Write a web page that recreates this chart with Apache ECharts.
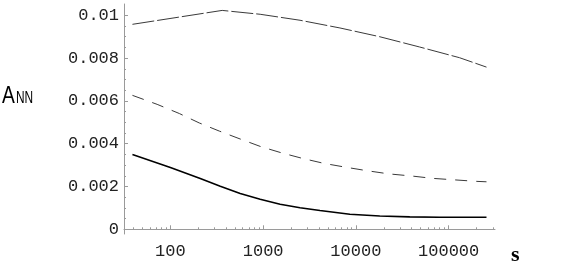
<!DOCTYPE html>
<html>
<head>
    <meta charset="utf-8">
    <title>ANN vs s</title>
    <script src="https://cdn.jsdelivr.net/npm/echarts@6/dist/echarts.min.js"></script>
    <style>
        html, body { margin: 0; padding: 0; background: #fff; }
        #main { width: 568px; height: 280px; }
    </style>
</head>
<body>
    <div id="main"></div>
    <script type="text/javascript">
        // curves (s on a log axis)
        var sTop = [39, 362, 929, 2500, 6730, 18100, 48700, 131000, 256000];
        var aTop = [0.00958, 0.01023, 0.01005, 0.00977, 0.00941, 0.00900, 0.00852, 0.00802, 0.00758];

        var sMid = [39, 72, 125, 205, 337, 566, 950, 1560, 2620, 4530, 7800, 13100, 22600, 40000, 67300, 116000, 200000, 256000];
        var aMid = [0.00626, 0.00584, 0.00541, 0.00497, 0.00459, 0.00422, 0.00386, 0.00358, 0.00332, 0.00308, 0.00290, 0.00274, 0.00259, 0.00249, 0.00238, 0.00231, 0.00224, 0.00222];

        var sLow = [39, 100, 210, 345, 566, 929, 1525, 2500, 4100, 8610, 18100, 38100, 80000, 256000];
        var aLow = [0.00350, 0.00289, 0.00237, 0.00201, 0.00167, 0.00140, 0.00117, 0.00101, 0.00088, 0.00070, 0.00062, 0.00058, 0.00056, 0.00056];

        // ticks
        var xMajor = [100, 1000, 10000, 100000];
        var xMinor = [40, 50, 60, 70, 80, 90, 200, 300, 400, 500, 600, 700, 800, 900,
            2000, 3000, 4000, 5000, 6000, 7000, 8000, 9000,
            20000, 30000, 40000, 50000, 60000, 70000, 80000, 90000, 200000, 300000];
        var yMajor = [0, 0.002, 0.004, 0.006, 0.008, 0.01];
        var yLabels = ['0', '0.002', '0.004', '0.006', '0.008', '0.01'];
        var yMinor = [0.0005, 0.001, 0.0015, 0.0025, 0.003, 0.0035, 0.0045, 0.005, 0.0055,
            0.0065, 0.007, 0.0075, 0.0085, 0.009, 0.0095];

        function pairs(xs, ys) {
            return xs.map(function (x, i) { return [x, ys[i]]; });
        }

        var axisGray = '#9a9a9a';
        var monoFont = { fontFamily: 'Liberation Mono', fontSize: 17, color: '#222' };

        var chart = echarts.init(document.getElementById('main'));
        var option = {
            animation: false,
            backgroundColor: '#fff',
            grid: { left: 124, right: 73, top: 4, bottom: 46, outerBoundsMode: 'none' },
            xAxis: [{
                type: 'log',
                min: Math.pow(10, 1.5),
                max: Math.pow(10, 5.5),
                position: 'bottom',
                axisLine: { lineStyle: { color: axisGray, width: 1 } },
                axisTick: { inside: true, length: 4, customValues: xMajor, lineStyle: { color: axisGray } },
                axisLabel: Object.assign({
                    customValues: xMajor,
                    margin: 9,
                    formatter: function (v) { return String(Math.round(v)); }
                }, monoFont),
                splitLine: { show: false },
                minorTick: { show: false }
            }, {
                type: 'log',
                min: Math.pow(10, 1.5),
                max: Math.pow(10, 5.5),
                position: 'bottom',
                axisLine: { show: false },
                axisTick: { inside: true, length: 2, customValues: xMinor, lineStyle: { color: axisGray } },
                axisLabel: { show: false },
                splitLine: { show: false }
            }],
            yAxis: [{
                type: 'value',
                min: -0.00022,
                max: 0.01053,
                position: 'left',
                axisLine: { show: true, lineStyle: { color: axisGray, width: 1 } },
                axisTick: { show: true, inside: true, length: 4, customValues: yMajor, lineStyle: { color: axisGray } },
                axisLabel: Object.assign({
                    customValues: yMajor,
                    margin: 5,
                    formatter: function (v) {
                        var i = yMajor.findIndex(function (m) { return Math.abs(m - v) < 1e-9; });
                        return i >= 0 ? yLabels[i] : '';
                    }
                }, monoFont),
                splitLine: { show: false }
            }, {
                type: 'value',
                min: -0.00022,
                max: 0.01053,
                position: 'left',
                axisLine: { show: false },
                axisTick: { show: true, inside: true, length: 2, customValues: yMinor, lineStyle: { color: axisGray } },
                axisLabel: { show: false },
                splitLine: { show: false }
            }],
            graphic: [
                { type: 'text', left: 2, top: 84, scaleX: 0.8,
                  style: { text: 'A', font: '24px "Liberation Sans"', fill: '#000' } },
                { type: 'text', left: 16, top: 90, scaleX: 0.7,
                  style: { text: 'NN', font: '17px "Liberation Sans"', fill: '#000' } },
                { type: 'text', left: 511, top: 244,
                  style: { text: 's', font: 'bold 22px "Liberation Serif"', fill: '#000' } }
            ],
            series: [{
                type: 'line',
                data: pairs(sTop, aTop),
                showSymbol: false,
                lineStyle: { color: '#3a3a3a', width: 1, type: [22, 3] }
            }, {
                type: 'line',
                data: pairs(sMid, aMid),
                showSymbol: false,
                lineStyle: { color: '#3a3a3a', width: 1, type: [12, 9] }
            }, {
                type: 'line',
                data: pairs(sLow, aLow),
                showSymbol: false,
                lineStyle: { color: '#000', width: 1.6, type: 'solid' }
            }]
        };
        chart.setOption(option);
    </script>
</body>
</html>
